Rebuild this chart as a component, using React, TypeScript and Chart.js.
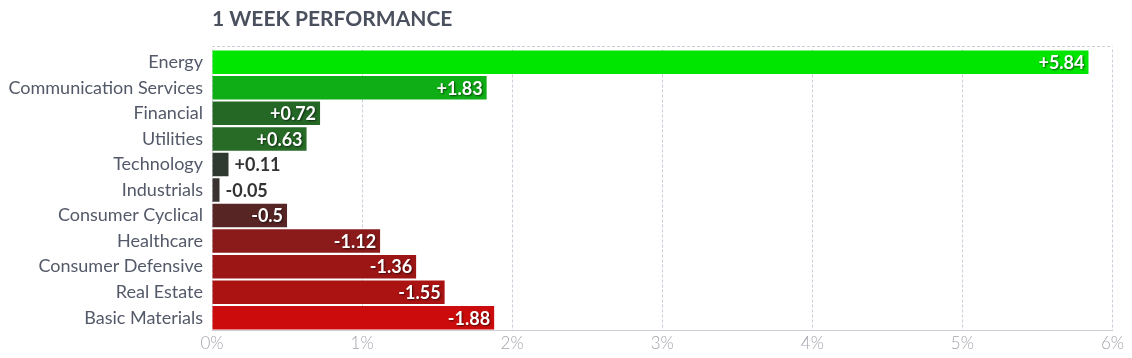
import React, { useEffect, useRef } from "react";
import { Chart, registerables } from "chart.js";

Chart.register(...registerables);

const sectors = [
  "Energy",
  "Communication Services",
  "Financial",
  "Utilities",
  "Technology",
  "Industrials",
  "Consumer Cyclical",
  "Healthcare",
  "Consumer Defensive",
  "Real Estate",
  "Basic Materials",
];
const weekChange = [5.84, 1.83, 0.72, 0.63, 0.11, -0.05, -0.5, -1.12, -1.36, -1.55, -1.88];
const barColors = [
  "#00e600",
  "#10ae16",
  "#256826",
  "#276b27",
  "#2e3a2f",
  "#3a3131",
  "#582525",
  "#8b1b1b",
  "#9c1616",
  "#ab1313",
  "#cc0c0c",
];
const xTicks = [0, 1, 2, 3, 4, 5, 6];
const titleText = "1 WEEK PERFORMANCE";

const FONT = "Lato, 'Noto Sans', sans-serif";
const GRID = "#cdced8";

const decorPlugin = {
  id: "decor",
  afterDraw(chart: any) {
    const { ctx, chartArea } = chart;
    ctx.save();
    // title
    ctx.font = `bold 21px ${FONT}`;
    ctx.fillStyle = "#4b505e";
    ctx.textAlign = "left";
    ctx.textBaseline = "alphabetic";
    ctx.fillText(titleText, chartArea.left, 26);
    // top frame line
    ctx.strokeStyle = GRID;
    ctx.lineWidth = 1;
    ctx.setLineDash([3, 2]);
    ctx.beginPath();
    ctx.moveTo(chartArea.left, 46.5);
    ctx.lineTo(chartArea.right, 46.5);
    ctx.stroke();
    ctx.restore();
  },
  afterDatasetsDraw(chart: any) {
    const { ctx } = chart;
    const meta = chart.getDatasetMeta(0);
    ctx.save();
    ctx.font = `bold 18px ${FONT}`;
    ctx.textBaseline = "middle";
    meta.data.forEach((bar: any, i: number) => {
      const v = weekChange[i];
      const txt = (v > 0 ? "+" : "") + String(v);
      const w = ctx.measureText(txt).width;
      const left = bar.base;
      const right = bar.x;
      if (right - left > w + 8) {
        ctx.save();
        ctx.fillStyle = "#ffffff";
        ctx.textAlign = "right";
        ctx.shadowColor = "rgba(0,0,0,0.6)";
        ctx.shadowBlur = 2;
        ctx.shadowOffsetX = 1;
        ctx.shadowOffsetY = 1;
        ctx.fillText(txt, right - 4, bar.y + 1);
        ctx.restore();
      } else {
        ctx.fillStyle = "#333333";
        ctx.textAlign = "left";
        ctx.fillText(txt, right + 6, bar.y + 1);
      }
    });
    ctx.restore();
  },
};

export default function App() {
  const ref = useRef<HTMLCanvasElement>(null);

  useEffect(() => {
    if (!ref.current) return;
    const chart = new Chart(ref.current, {
      type: "bar",
      data: {
        labels: sectors,
        datasets: [
          {
            data: weekChange.map((v) => Math.abs(v)),
            backgroundColor: barColors,
            borderWidth: 0,
            barPercentage: 0.92,
            categoryPercentage: 1,
          },
        ],
      },
      options: {
        indexAxis: "y",
        animation: false,
        responsive: true,
        maintainAspectRatio: false,
        layout: { padding: { top: 49.5, right: 19.5, left: 0, bottom: 0 } },
        plugins: {
          legend: { display: false },
          tooltip: { enabled: false },
          title: { display: false },
        },
        scales: {
          x: {
            min: 0,
            max: 6,
            afterBuildTicks: (scale: any) => {
              scale.ticks = xTicks.map((v) => ({ value: v }));
            },
            afterFit: (scale: any) => {
              scale.height = 27.5;
            },
            grid: {
              color: GRID,
              lineWidth: 1,
              drawTicks: false,
            },
            border: { display: true, color: GRID, dash: [3, 2] },
            ticks: {
              padding: 3,
              color: "#a4a4ae",
              font: { family: FONT, size: 17, weight: "300" },
              callback: (v: any) => `${v}%`,
            },
          },
          y: {
            afterFit: (scale: any) => {
              scale.width = 212;
            },
            grid: { display: false, drawTicks: false },
            border: { display: false },
            ticks: {
              padding: 9,
              color: "#535968",
              font: { family: FONT, size: 18 },
            },
          },
        },
      },
      plugins: [decorPlugin],
    });
    return () => chart.destroy();
  }, []);

  return (
    <div style={{ position: "fixed", left: 0, top: 0, width: 1132, height: 358, background: "#fff" }}>
      <canvas ref={ref} />
    </div>
  );
}
